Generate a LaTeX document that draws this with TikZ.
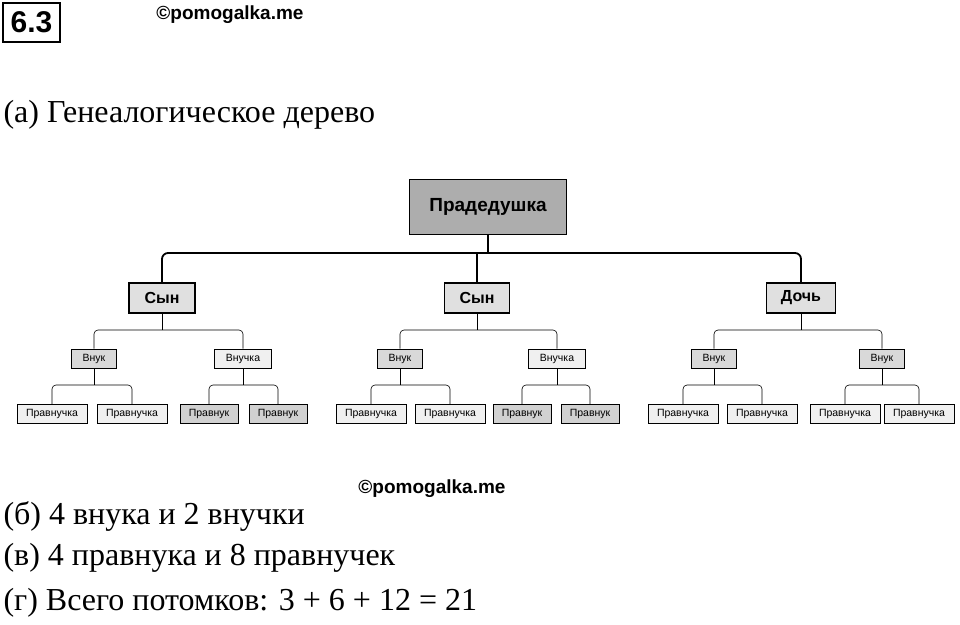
\documentclass[tikz,border=0pt]{standalone}
\usepackage{fontspec}
\setmainfont{Liberation Serif}
\newfontfamily\arial{Liberation Sans}
\begin{document}
\begin{tikzpicture}[x=1pt,y=-1pt,
 big/.style={draw,line width=1.6pt,fill=black!32,minimum width=157pt,minimum height=55pt,font=\arial\bfseries\fontsize{19}{22}\selectfont},
 mid/.style={draw,line width=1.2pt,fill=black!12,minimum height=30pt,font=\arial\bfseries\fontsize{16}{18}\selectfont},
 sm/.style={draw,line width=0.6pt,fill=#1,minimum height=19pt,inner xsep=2pt,font=\arial\fontsize{10.5}{12}\selectfont},
 sm/.default=black!10,
 l1/.style={line width=1.8pt,rounded corners=6pt},
 l2/.style={line width=0.6pt,rounded corners=4pt},
 txt/.style={anchor=west,font=\fontsize{32}{36}\selectfont},
 wm/.style={font=\arial\bfseries\fontsize{19}{21}\selectfont}]
\useasboundingbox (0,0) rectangle (960,624);
\node[draw,line width=1.2pt,minimum width=57pt,minimum height=39pt,font=\arial\bfseries\fontsize{30}{32}\selectfont,inner sep=0pt] (num) at (31.5,22.5) {6.3};
\node[wm] (w1) at (230,15) {©pomogalka.me};
\node[wm] (w2) at (432,489) {©pomogalka.me};
\node[txt] (ta) at (0,115) {(а) Генеалогическое дерево};
\node[txt] (tb) at (0,516) {(б) 4 внука и 2 внучки};
\node[txt] (tc) at (0,558) {(в) 4 правнука и 8 правнучек};
\node[txt] (td) at (0,603) {(г) Всего потомков: 3 + 6 + 12 = 21};

\node[big] (p) at (488,207) {Прадедушка};
\node[mid,minimum width=66pt] (s1) at (162,298) {Сын};
\node[mid,minimum width=65pt] (s2) at (477,298) {Сын};
\node[mid,minimum width=69pt] (s3) at (801,298) {Дочь};
\draw[l1] (p.south) -- (488,253);
\draw[l1] (s1.north) |- (488,253) -| (s3.north);
\draw[l1] (s2.north) -- (477,253);

\foreach \s/\a/\b/\la/\lb/\wa/\wb/\fa/\fb in {s1/94/243/Внук/Внучка/45/57/black!15/black!6, s2/400/557/Внук/Внучка/45/57/black!15/black!6, s3/714/882/Внук/Внук/45/45/black!15/black!15}{
  \node[sm=\fa,minimum width=\wa pt] (\s a) at (\a,358.5) {\la};
  \node[sm=\fb,minimum width=\wb pt] (\s b) at (\b,358.5) {\lb};
  \draw[l2] (\s a.north) |- (\s.south |- 0,330) -| (\s b.north);
  \draw[l2] (\s.south) -- (\s.south |- 0,330);
}
\foreach \g/\x/\y/\na/\nb/\w/\c in {s1a/52/132/Правнучка/Правнучка/70/black!6, s1b/209/278/Правнук/Правнук/58/black!18,
  s2a/371/450/Правнучка/Правнучка/70/black!6, s2b/522/590/Правнук/Правнук/58/black!18,
  s3a/683/762/Правнучка/Правнучка/70/black!6, s3b/845/919/Правнучка/Правнучка/70/black!6}{
  \node[sm=\c,minimum width=\w pt] (\g x) at (\x,414) {\na};
  \node[sm=\c,minimum width=\w pt] (\g y) at (\y,414) {\nb};
  \draw[l2] (\g x.north) |- (\g.south |- 0,385) -| (\g y.north);
  \draw[l2] (\g.south) -- (\g.south |- 0,385);
}
\end{tikzpicture}
\end{document}
